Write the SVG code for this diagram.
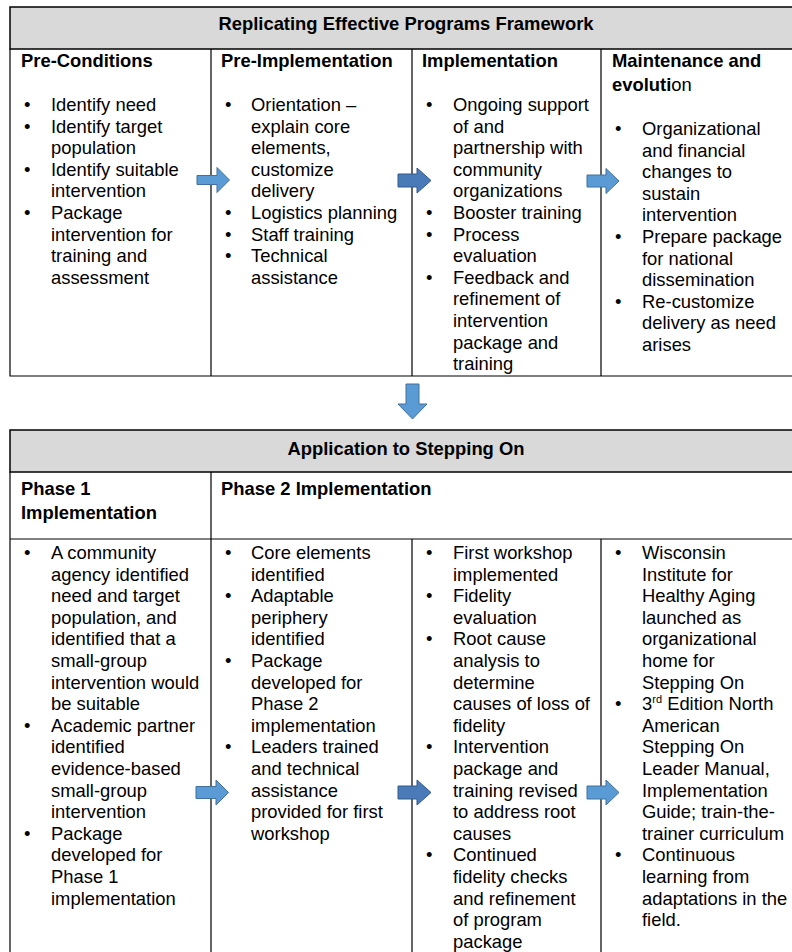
<svg xmlns="http://www.w3.org/2000/svg" width="792" height="952" viewBox="0 0 792 952">
<style>
.t{font-family:"Liberation Sans",Arial,sans-serif;font-size:18.4px;fill:#000}
.b{font-weight:bold}
.ttl{font-family:"Liberation Sans",Arial,sans-serif;font-size:18.4px;font-weight:bold;text-anchor:middle}
.ln{stroke:#000;stroke-width:1.2;fill:none}
.hd{fill:#d9d9d9;stroke:#000;stroke-width:1.5}
.a1{fill:#5b9bd5;stroke:#41719c;stroke-width:1}
.a2{fill:#4a7ab8;stroke:#345a8a;stroke-width:1}
</style>
<rect width="792" height="952" fill="#fff"/>
<g id="top-table">
<rect class="hd" x="10" y="7" width="800" height="42"/>
<text class="ttl" x="406" y="30">Replicating Effective Programs Framework</text>
<path class="ln" d="M10 49V376H810M211 49V376M412 49V376M601 49V376"/>
</g>
<g id="pre-conditions">
<text class="t b" x="21" y="67">Pre-Conditions</text>
<g class="t">
<text x="24" y="111">•</text><text x="51" y="111">Identify need</text>
<text x="24" y="132.6">•</text><text x="51" y="132.6">Identify target</text>
<text x="51" y="154.2">population</text>
<text x="24" y="175.8">•</text><text x="51" y="175.8">Identify suitable</text>
<text x="51" y="197.4">intervention</text>
<text x="24" y="219">•</text><text x="51" y="219">Package</text>
<text x="51" y="240.6">intervention for</text>
<text x="51" y="262.2">training and</text>
<text x="51" y="283.8">assessment</text>
</g>
</g>
<g id="pre-implementation">
<text class="t b" x="221" y="67">Pre-Implementation</text>
<g class="t">
<text x="225" y="111">•</text><text x="251" y="111">Orientation –</text>
<text x="251" y="132.6">explain core</text>
<text x="251" y="154.2">elements,</text>
<text x="251" y="175.8">customize</text>
<text x="251" y="197.4">delivery</text>
<text x="225" y="219">•</text><text x="251" y="219">Logistics planning</text>
<text x="225" y="240.6">•</text><text x="251" y="240.6">Staff training</text>
<text x="225" y="262.2">•</text><text x="251" y="262.2">Technical</text>
<text x="251" y="283.8">assistance</text>
</g>
</g>
<g id="implementation">
<text class="t b" x="422" y="67">Implementation</text>
<g class="t">
<text x="426" y="111">•</text><text x="453" y="111">Ongoing support</text>
<text x="453" y="132.6">of and</text>
<text x="453" y="154.2">partnership with</text>
<text x="453" y="175.8">community</text>
<text x="453" y="197.4">organizations</text>
<text x="426" y="219">•</text><text x="453" y="219">Booster training</text>
<text x="426" y="240.6">•</text><text x="453" y="240.6">Process</text>
<text x="453" y="262.2">evaluation</text>
<text x="426" y="283.8">•</text><text x="453" y="283.8">Feedback and</text>
<text x="453" y="305.4">refinement of</text>
<text x="453" y="327">intervention</text>
<text x="453" y="348.6">package and</text>
<text x="453" y="370.2">training</text>
</g>
</g>
<g id="maintenance">
<text class="t b" x="612" y="67">Maintenance and</text>
<text class="t" x="612" y="91"><tspan class="b">evoluti</tspan>on</text>
<g class="t">
<text x="615" y="135">•</text><text x="642" y="135">Organizational</text>
<text x="642" y="156.6">and financial</text>
<text x="642" y="178.2">changes to</text>
<text x="642" y="199.8">sustain</text>
<text x="642" y="221.4">intervention</text>
<text x="615" y="243">•</text><text x="642" y="243">Prepare package</text>
<text x="642" y="264.6">for national</text>
<text x="642" y="286.2">dissemination</text>
<text x="615" y="307.8">•</text><text x="642" y="307.8">Re-customize</text>
<text x="642" y="329.4">delivery as need</text>
<text x="642" y="351">arises</text>
</g>
</g>
<g id="bottom-table">
<rect class="hd" x="10" y="430" width="800" height="42"/>
<text class="ttl" x="406" y="455">Application to Stepping On</text>
<path class="ln" d="M10 472V960M211 472V960M412 539V960M601 539V960M10 539H810"/>
</g>
<g id="phase1">
<text class="t b" x="21" y="495">Phase 1</text>
<text class="t b" x="21" y="519">Implementation</text>
<g class="t">
<text x="24" y="559">•</text><text x="51" y="559">A community</text>
<text x="51" y="580.6">agency identified</text>
<text x="51" y="602.2">need and target</text>
<text x="51" y="623.8">population, and</text>
<text x="51" y="645.4">identified that a</text>
<text x="51" y="667">small-group</text>
<text x="51" y="688.6">intervention would</text>
<text x="51" y="710.2">be suitable</text>
<text x="24" y="731.8">•</text><text x="51" y="731.8">Academic partner</text>
<text x="51" y="753.4">identified</text>
<text x="51" y="775">evidence-based</text>
<text x="51" y="796.6">small-group</text>
<text x="51" y="818.2">intervention</text>
<text x="24" y="839.8">•</text><text x="51" y="839.8">Package</text>
<text x="51" y="861.4">developed for</text>
<text x="51" y="883">Phase 1</text>
<text x="51" y="904.6">implementation</text>
</g>
</g>
<g id="phase2">
<text class="t b" x="221" y="495">Phase 2 Implementation</text>
<g class="t">
<text x="225" y="559">•</text><text x="251" y="559">Core elements</text>
<text x="251" y="580.6">identified</text>
<text x="225" y="602.2">•</text><text x="251" y="602.2">Adaptable</text>
<text x="251" y="623.8">periphery</text>
<text x="251" y="645.4">identified</text>
<text x="225" y="667">•</text><text x="251" y="667">Package</text>
<text x="251" y="688.6">developed for</text>
<text x="251" y="710.2">Phase 2</text>
<text x="251" y="731.8">implementation</text>
<text x="225" y="753.4">•</text><text x="251" y="753.4">Leaders trained</text>
<text x="251" y="775">and technical</text>
<text x="251" y="796.6">assistance</text>
<text x="251" y="818.2">provided for first</text>
<text x="251" y="839.8">workshop</text>
</g>
</g>
<g id="phase2-workshop">
<g class="t">
<text x="426" y="559">•</text><text x="453" y="559">First workshop</text>
<text x="453" y="580.6">implemented</text>
<text x="426" y="602.2">•</text><text x="453" y="602.2">Fidelity</text>
<text x="453" y="623.8">evaluation</text>
<text x="426" y="645.4">•</text><text x="453" y="645.4">Root cause</text>
<text x="453" y="667">analysis to</text>
<text x="453" y="688.6">determine</text>
<text x="453" y="710.2">causes of loss of</text>
<text x="453" y="731.8">fidelity</text>
<text x="426" y="753.4">•</text><text x="453" y="753.4">Intervention</text>
<text x="453" y="775">package and</text>
<text x="453" y="796.6">training revised</text>
<text x="453" y="818.2">to address root</text>
<text x="453" y="839.8">causes</text>
<text x="426" y="861.4">•</text><text x="453" y="861.4">Continued</text>
<text x="453" y="883">fidelity checks</text>
<text x="453" y="904.6">and refinement</text>
<text x="453" y="926.2">of program</text>
<text x="453" y="947.8">package</text>
</g>
</g>
<g id="phase2-maintenance">
<g class="t">
<text x="615" y="559">•</text><text x="642" y="559">Wisconsin</text>
<text x="642" y="580.6">Institute for</text>
<text x="642" y="602.2">Healthy Aging</text>
<text x="642" y="623.8">launched as</text>
<text x="642" y="645.4">organizational</text>
<text x="642" y="667">home for</text>
<text x="642" y="688.6">Stepping On</text>
<text x="615" y="710.2">•</text><text x="642" y="710.2">3<tspan font-size="11" dy="-7">rd</tspan><tspan dy="7"> Edition North</tspan></text>
<text x="642" y="731.8">American</text>
<text x="642" y="753.4">Stepping On</text>
<text x="642" y="775">Leader Manual,</text>
<text x="642" y="796.6">Implementation</text>
<text x="642" y="818.2">Guide; train-the-</text>
<text x="642" y="839.8">trainer curriculum</text>
<text x="615" y="861.4">•</text><text x="642" y="861.4">Continuous</text>
<text x="642" y="883">learning from</text>
<text x="642" y="904.6">adaptations in the</text>
<text x="642" y="926.2">field.</text>
</g>
</g>
<g id="connectors">
<path class="a1" d="M197 175.5H217V167.5L229.5 180L217 192.5V184.5H197Z"/>
<path class="a2" d="M398 174H417V168L431 180.5L417 193V187H398Z"/>
<path class="a1" d="M587 175H606V168.5L619 181L606 193.5V187H587Z"/>
<path class="a1" d="M406 384H419V404H427L412.5 419L398 404H406Z"/>
<path class="a1" d="M196 786.5H216V780L228.5 792.5L216 805V798.5H196Z"/>
<path class="a2" d="M398 786H417V780L431 792.5L417 805V799H398Z"/>
<path class="a1" d="M587 786H606V780L619 792.5L606 805V799H587Z"/>
</g>
</svg>
